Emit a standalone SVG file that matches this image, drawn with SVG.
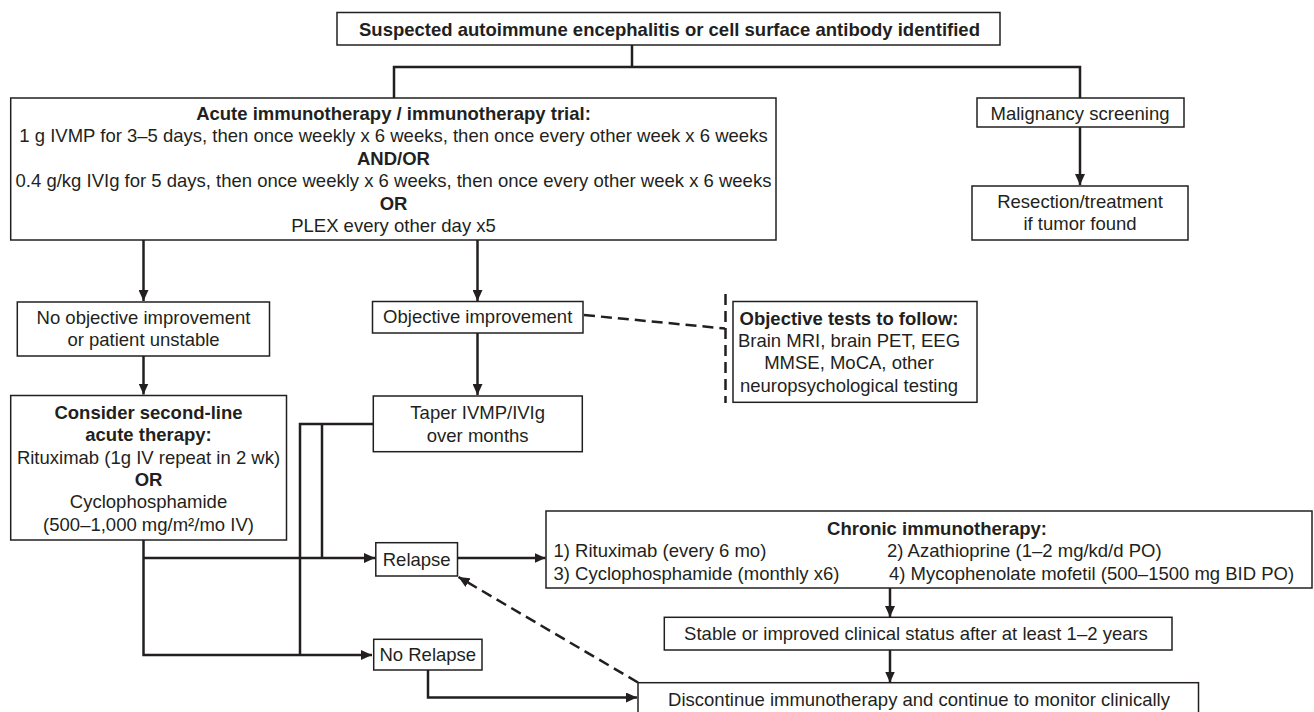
<svg xmlns="http://www.w3.org/2000/svg" width="1314" height="712" viewBox="0 0 1314 712">
  <defs>
    <style>
      .box { fill: #ffffff; stroke: #231f20; stroke-width: 1.5; }
      .t { font-family: "Liberation Sans", Arial, Helvetica, sans-serif; font-size: 18.5px; fill: #231f20; text-anchor: middle; }
      .l { text-anchor: start; }
      .b { font-weight: bold; }
      .wire { fill: none; stroke: #231f20; stroke-width: 2.5; }
      .dash { fill: none; stroke: #231f20; stroke-width: 2.5; stroke-dasharray: 11 6; }
    </style>
    <marker id="arrow" markerUnits="userSpaceOnUse" markerWidth="11" markerHeight="10" refX="11" refY="5" orient="auto">
      <path d="M0,0 L11,5 L0,10 z" fill="#231f20"/>
    </marker>
  </defs>

  <rect width="1314" height="712" fill="#ffffff"/>

  <!-- connectors -->
  <g id="connectors">
    <polyline class="wire" points="632,45 632,67"/>
    <polyline class="wire" points="394,98 394,67 1080,67 1080,98"/>
    <line class="wire" x1="1080" y1="127" x2="1080" y2="185" marker-end="url(#arrow)"/>
    <line class="wire" x1="143.5" y1="240" x2="143.5" y2="301" marker-end="url(#arrow)"/>
    <line class="wire" x1="477.5" y1="240" x2="477.5" y2="301" marker-end="url(#arrow)"/>
    <line class="wire" x1="143.5" y1="356" x2="143.5" y2="394.5" marker-end="url(#arrow)"/>
    <line class="wire" x1="477.5" y1="333" x2="477.5" y2="395" marker-end="url(#arrow)"/>
    <!-- second-line branch to relapse / no relapse -->
    <polyline class="wire" points="143.5,540 143.5,655 372,655" marker-end="url(#arrow)"/>
    <line class="wire" x1="143.5" y1="558" x2="375" y2="558" marker-end="url(#arrow)"/>
    <!-- taper branch -->
    <polyline class="wire" points="373,424 300,424 300,655"/>
    <line class="wire" x1="322" y1="424" x2="322" y2="558"/>
    <line class="wire" x1="458" y1="558" x2="545.5" y2="558" marker-end="url(#arrow)"/>
    <polyline class="wire" points="428,670 428,697.5 637,697.5" marker-end="url(#arrow)"/>
    <line class="wire" x1="890" y1="588" x2="890" y2="617" marker-end="url(#arrow)"/>
    <line class="wire" x1="890" y1="650" x2="890" y2="682.5" marker-end="url(#arrow)"/>
    <!-- dashed links -->
    <line class="dash" x1="584" y1="315" x2="725" y2="328.5"/>
    <line class="dash" x1="725.5" y1="294" x2="725.5" y2="403"/>
    <line class="dash" x1="638" y1="682.5" x2="458.5" y2="577" marker-end="url(#arrow)"/>
  </g>

  <g id="start">
    <rect class="box" x="337" y="12.5" width="663" height="32.5"/>
    <text class="t b" x="669.5" y="35.5">Suspected autoimmune encephalitis or cell surface antibody identified</text>
  </g>

  <g id="acute">
    <rect class="box" x="10.7" y="98" width="765.3" height="142"/>
    <text class="t b" x="393.5" y="120">Acute immunotherapy / immunotherapy trial:</text>
    <text class="t" x="393.5" y="142.4">1 g IVMP for 3–5 days, then once weekly x 6 weeks, then once every other week x 6 weeks</text>
    <text class="t b" x="393.5" y="164.8">AND/OR</text>
    <text class="t" x="393.5" y="187.2">0.4 g/kg IVIg for 5 days, then once weekly x 6 weeks, then once every other week x 6 weeks</text>
    <text class="t b" x="393.5" y="209.6">OR</text>
    <text class="t" x="393.5" y="232">PLEX every other day x5</text>
  </g>

  <g id="malignancy">
    <rect class="box" x="977" y="98" width="207" height="29"/>
    <text class="t" x="1080" y="119.5">Malignancy screening</text>
  </g>

  <g id="resection">
    <rect class="box" x="972" y="186" width="216" height="54"/>
    <text class="t" x="1080" y="208">Resection/treatment</text>
    <text class="t" x="1080" y="230.4">if tumor found</text>
  </g>

  <g id="no-improvement">
    <rect class="box" x="17.3" y="302" width="252.2" height="54"/>
    <text class="t" x="143.5" y="324">No objective improvement</text>
    <text class="t" x="143.5" y="346.4">or patient unstable</text>
  </g>

  <g id="improvement">
    <rect class="box" x="372.5" y="301.5" width="210.5" height="31.5"/>
    <text class="t" x="477.7" y="323.2">Objective improvement</text>
  </g>

  <g id="objective-tests">
    <rect class="box" x="733" y="301.5" width="244" height="100.8"/>
    <text class="t b" x="849" y="324.5">Objective tests to follow:</text>
    <text class="t" x="849" y="346.9">Brain MRI, brain PET, EEG</text>
    <text class="t" x="849" y="369.3">MMSE, MoCA, other</text>
    <text class="t" x="849" y="391.7">neuropsychological testing</text>
  </g>

  <g id="second-line">
    <rect class="box" x="10.7" y="395.5" width="275.8" height="144.5"/>
    <text class="t b" x="148.5" y="418.8">Consider second-line</text>
    <text class="t b" x="148.5" y="441.2">acute therapy:</text>
    <text class="t" x="148.5" y="463.6">Rituximab (1g IV repeat in 2 wk)</text>
    <text class="t b" x="148.5" y="486">OR</text>
    <text class="t" x="148.5" y="508.4">Cyclophosphamide</text>
    <text class="t" x="148.5" y="530.8">(500–1,000 mg/m²/mo IV)</text>
  </g>

  <g id="taper">
    <rect class="box" x="373.3" y="396" width="209" height="55.7"/>
    <text class="t" x="477.7" y="419.2">Taper IVMP/IVIg</text>
    <text class="t" x="477.7" y="441.6">over months</text>
  </g>

  <g id="relapse">
    <rect class="box" x="375.8" y="542.7" width="81.7" height="33.3"/>
    <text class="t" x="416.7" y="565.8">Relapse</text>
  </g>

  <g id="no-relapse">
    <rect class="box" x="373.7" y="639.3" width="108.3" height="30.7"/>
    <text class="t" x="427.8" y="661.2">No Relapse</text>
  </g>

  <g id="chronic">
    <rect class="box" x="546" y="511" width="766" height="77"/>
    <text class="t b" x="937" y="534.8">Chronic immunotherapy:</text>
    <text class="t l" x="553.5" y="557.2">1) Rituximab (every 6 mo)</text>
    <text class="t l" x="887" y="557.2">2) Azathioprine (1–2 mg/kd/d PO)</text>
    <text class="t l" x="553.5" y="579.6">3) Cyclophosphamide (monthly x6)</text>
    <text class="t l" x="889" y="579.6">4) Mycophenolate mofetil (500–1500 mg BID PO)</text>
  </g>

  <g id="stable">
    <rect class="box" x="664.3" y="617.3" width="507.7" height="32.7"/>
    <text class="t" x="916" y="639.8">Stable or improved clinical status after at least 1–2 years</text>
  </g>

  <g id="discontinue">
    <rect class="box" x="638" y="682.7" width="560.5" height="40"/>
    <text class="t" x="919" y="705.8">Discontinue immunotherapy and continue to monitor clinically</text>
  </g>
</svg>
